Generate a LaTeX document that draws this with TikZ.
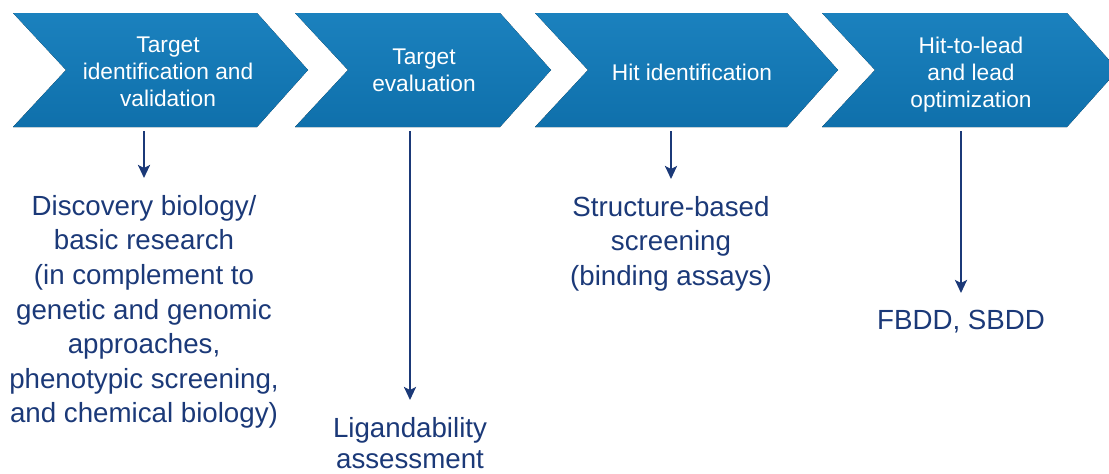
\documentclass[tikz,border=0pt]{standalone}
\usepackage{fontspec}
\setmainfont{Liberation Sans}
\usetikzlibrary{arrows.meta,calc}
\definecolor{navy}{RGB}{27,57,120}
\definecolor{chevtop}{RGB}{27,129,190}
\definecolor{chevmid}{RGB}{19,121,181}
\definecolor{chevbot}{RGB}{15,112,171}
\tikzset{
    chevron/.style = {top color=chevtop,
                    middle color=chevmid,
                    bottom color=chevbot,
                    draw=none},
    stage/.style =  {text=white,
                    align=center,
                    inner sep=0pt,
                    anchor=north,
                    font=\fontsize{22.7}{27}\selectfont},
    outcome/.style = {text=navy,
                    align=center,
                    inner sep=0pt,
                    anchor=north,
                    font=\fontsize{27.7}{34.6}\selectfont},
    flow/.style =   {color=navy,
                    line width=2.8pt,
                    ->,
                    shorten >=17pt,
                    shorten <=4pt},
    >={Stealth[length=13pt,width=12pt,inset=3pt]}}

\begin{document}
\begin{tikzpicture}[x=1pt,y=-1pt]
        \useasboundingbox (0,0) rectangle (1109,474);

        % the four steps, left corner / right corner of each
        \begin{scope}
            \clip (0,0) rectangle (1109,474);
            \foreach \l/\r in {13/257,295/500,535/787,822/1067}
                \fill[chevron] (\l,13) -- (\r,13) -- (\r+51,70) -- (\r,127)
                                -- (\l,127) -- (\l+53,70) -- cycle;
        \end{scope}

        \node[stage]    (s1) at (168,36.7)  {Target\\identification and\\validation};
        \node[stage]    (s2) at (424,48.7)  {Target\\evaluation};
        \node[stage]    (s3) at (692,63.4)  {Hit identification};
        \node[stage]    (s4) at (971,36.4)  {Hit-to-lead\\and lead\\optimization};

        \node[outcome]  (o1) at (144,195)   {Discovery biology/\\basic research\\(in complement to\\genetic and genomic\\approaches,\\phenotypic screening,\\and chemical biology)};
        \node[outcome,font=\fontsize{27.7}{31.5}\selectfont]
                        (o2) at (410,417)   {Ligandability\\assessment};
        \node[outcome]  (o3) at (671,196)   {Structure-based\\screening\\(binding assays)};
        \node[outcome]  (o4) at (961,310)   {FBDD, SBDD};

        % arrows hang from the bottom edge of the steps
        \foreach \n in {1,...,4}
            \coordinate (b\n) at (o\n.north |- 0,127);

        \path [flow]    (b1) edge []    node [] {} (o1.north)
                        (b2) edge []    node [] {} (o2.north)
                        (b3) edge []    node [] {} (o3.north)
                        (b4) edge []    node [] {} (o4.north);
\end{tikzpicture}
\end{document}
